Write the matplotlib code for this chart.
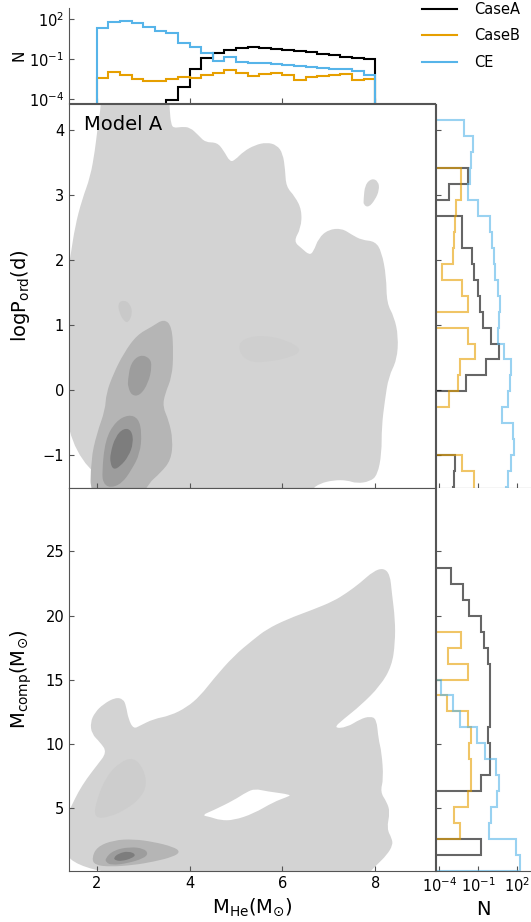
import numpy as np
import matplotlib.pyplot as plt
from matplotlib.path import Path
from matplotlib.patches import PathPatch
from matplotlib.lines import Line2D
from matplotlib.ticker import NullLocator

nan = np.nan

# ---- histograms: log10(N) per bin, nan = empty bin ----
mhe_edges = np.linspace(2.0, 8.0, 25)
mhe_caseA = [nan, nan, nan, nan, nan, nan, -4.05, -3.10, -1.68, -0.88, -0.50, -0.30,
             -0.13, -0.05, -0.12, -0.22, -0.28, -0.38, -0.48, -0.58, -0.68, -0.80, -0.88, -0.98]
mhe_caseB = [-2.38, -1.93, -2.20, -2.43, -2.60, -2.60, -2.43, -2.30, -2.40, -2.20, -2.00, -1.80,
             -2.00, -2.25, -2.10, -2.00, -2.18, -2.55, -2.35, -2.25, -2.15, -2.10, -2.55, -2.50]
mhe_ce = [1.375, 1.78, 1.875, 1.70, 1.45, 1.15, 1.00, 0.20, -0.10, -0.55, -1.10, -0.80,
          -1.18, -1.25, -1.30, -1.35, -1.43, -1.48, -1.55, -1.63, -1.68, -1.75, -1.85, -2.18]

logp_edges = np.linspace(-1.733, 4.154, 25)
logp_caseA = [-2.90, -2.87, -2.79, nan, nan, nan, nan, -1.95, -0.38, 0.56, -0.05, -0.62,
              -0.87, -1.00, -1.31, -1.51, -2.28, -2.23, nan, -3.25, -1.82, nan, nan, nan]
logp_caseB = [-1.30, -1.31, -2.28, nan, nan, nan, -3.25, -2.59, -2.41, -1.25, -1.77, nan,
              -1.77, -2.28, -3.77, -2.92, -2.85, -2.79, -2.74, -2.33, -2.33, nan, nan, nan]
logp_ce = [1.10, 1.26, 1.52, 1.77, 1.64, 0.80, 1.30, 1.45, 1.52, 0.95, 0.54, 0.62,
           0.67, 0.54, 0.28, 0.21, 0.08, -0.10, -1.05, -1.77, -1.64, -1.56, -1.43, -2.08]

mc_edges = np.linspace(0.12, 29.93, 25)
mc_caseA = [nan, -0.82, nan, nan, nan, -0.82, -0.10, -0.10, -0.22, -0.10, -0.12, -0.12,
            -0.12, -0.25, -0.54, -0.77, -1.72, -2.15, -3.10, nan, nan, nan, nan, nan]
mc_caseB = [nan, nan, -2.41, -2.85, -1.77, -1.56, -1.56, -1.69, -1.56, -1.77, -3.43, nan,
            -1.77, -3.31, -2.36, nan, nan, nan, nan, nan, nan, nan, nan, nan]
mc_ce = [2.18, 1.92, -0.15, 0.00, 0.47, 0.63, 0.34, -0.47, -1.13, -2.40, -2.90, -3.82,
         nan, nan, nan, nan, nan, nan, nan, nan, nan, nan, nan, nan]

labels = ['CaseA', 'CaseB', 'CE']
colors = ['black', '#E69F00', '#56B4E9']

# ---- density contour outlines (M_He, logP) ----
logp_outer = [(1.32, -1.70), (1.32, 1.59), (1.43, 2.05), (1.53, 2.52), (1.68, 2.93), (1.86, 3.28),
              (1.96, 3.69), (2.01, 4.00), (2.07, 4.26), (2.12, 4.70), (3.55, 4.70), (3.57, 4.30),
              (3.60, 4.10), (3.65, 4.03), (3.83, 4.05), (4.01, 4.04), (4.19, 3.92), (4.34, 3.81),
              (4.59, 3.81), (4.73, 3.69), (4.87, 3.51), (4.98, 3.54), (5.16, 3.67), (5.41, 3.77),
              (5.66, 3.81), (5.88, 3.77), (6.01, 3.64), (6.06, 3.39), (6.08, 3.13), (6.27, 2.98),
              (6.42, 2.77), (6.40, 2.49), (6.24, 2.29), (6.42, 2.18), (6.58, 2.08), (6.67, 2.13),
              (6.78, 2.34), (6.99, 2.47), (7.28, 2.49), (7.50, 2.39), (7.71, 2.31), (8.00, 2.29),
              (8.14, 2.13), (8.24, 1.75), (8.25, 1.34), (8.41, 1.13), (8.50, 0.83), (8.47, 0.47),
              (8.29, 0.21), (8.21, -0.15), (8.14, -0.56), (8.14, -0.97), (8.05, -1.30), (7.89, -1.40),
              (7.60, -1.43), (7.39, -1.38), (7.10, -1.38), (6.81, -1.43), (6.63, -1.52), (6.60, -1.70)]
logp_blob = [(7.75, 2.93), (7.78, 3.16), (7.93, 3.26), (8.07, 3.21), (8.09, 3.08), (8.00, 2.93),
             (7.86, 2.81), (7.75, 2.85)]
logp_faint = [(2.45, 1.34), (2.58, 1.39), (2.72, 1.33), (2.77, 1.18), (2.68, 1.04), (2.59, 1.06),
              (2.49, 1.18)]
logp_faint2 = [(5.03, 0.65), (5.16, 0.80), (5.59, 0.85), (6.10, 0.77), (6.42, 0.63), (6.24, 0.52),
               (5.66, 0.43), (5.23, 0.44)]
logp_mid = [(1.86, -1.70), (1.87, -1.07), (2.00, -0.66), (2.18, -0.30), (2.20, -0.05), (2.36, 0.26),
            (2.58, 0.57), (2.86, 0.85), (3.19, 0.98), (3.45, 1.10), (3.62, 0.98), (3.65, 0.57),
            (3.62, 0.21), (3.47, -0.05), (3.42, -0.25), (3.55, -0.46), (3.64, -0.76), (3.60, -1.07),
            (3.37, -1.27), (3.11, -1.43), (2.93, -1.70)]
logp_dark_a = [(2.67, 0.16), (2.73, 0.42), (2.93, 0.55), (3.14, 0.50), (3.19, 0.37), (3.11, 0.11),
               (2.93, -0.08), (2.75, -0.08), (2.67, 0.06)]
logp_dark_b = [(2.11, -1.27), (2.18, -0.76), (2.40, -0.48), (2.68, -0.37), (2.90, -0.43), (2.97, -0.66),
               (2.93, -0.97), (2.75, -1.22), (2.54, -1.43), (2.29, -1.50), (2.14, -1.43)]
logp_core = [(2.29, -0.97), (2.40, -0.71), (2.58, -0.58), (2.75, -0.61), (2.79, -0.81), (2.68, -1.02),
             (2.50, -1.17), (2.36, -1.22), (2.29, -1.12)]

# ---- density contour outlines (M_He, M_comp) ----
mc_outer = [(1.32, -0.50), (1.32, 4.20), (1.46, 5.23), (1.60, 6.27), (1.78, 7.30), (2.00, 8.33),
            (2.22, 9.37), (2.07, 10.14), (1.89, 10.79), (1.86, 11.69), (1.96, 12.47), (2.14, 13.11),
            (2.40, 13.63), (2.57, 13.50), (2.63, 12.98), (2.68, 11.95), (2.79, 11.18), (2.93, 11.43),
            (3.22, 11.95), (3.58, 12.21), (3.94, 12.86), (4.23, 13.76), (4.51, 15.05), (4.95, 16.86),
            (5.38, 18.15), (5.66, 18.93), (6.09, 19.70), (6.67, 20.48), (7.10, 21.12), (7.39, 21.77),
            (7.68, 22.55), (7.96, 23.45), (8.18, 23.71), (8.32, 23.19), (8.36, 21.77), (8.43, 19.70),
            (8.43, 17.89), (8.36, 16.09), (8.11, 14.53), (7.68, 12.98), (7.32, 11.95), (7.10, 11.23),
            (7.39, 11.30), (7.68, 11.95), (7.89, 12.16), (8.03, 11.95), (8.07, 10.40), (8.14, 9.37),
            (8.18, 7.30), (8.11, 6.27), (8.25, 5.49), (8.32, 4.72), (8.25, 3.42), (8.36, 2.65),
            (8.38, 2.13), (8.25, 1.36), (8.03, 0.58), (7.89, 0.06), (7.82, -0.50)]
mc_hole = [(4.26, 4.46), (4.51, 4.84), (4.95, 5.62), (5.23, 6.27), (5.41, 6.52), (5.66, 6.32),
           (6.20, 6.06), (6.10, 5.88), (5.81, 5.49), (5.38, 4.59), (4.95, 4.07), (4.66, 4.07),
           (4.44, 4.33)]
mc_faint = [(1.93, 4.20), (2.00, 5.75), (2.22, 7.56), (2.50, 8.59), (2.79, 8.98), (3.01, 8.07),
            (3.08, 6.78), (2.93, 5.75), (2.65, 4.97), (2.29, 4.33)]
mc_mid = [(1.89, 1.10), (2.00, 2.00), (2.36, 2.52), (2.79, 2.60), (3.22, 2.39), (3.65, 2.00),
          (3.80, 1.62), (3.65, 1.23), (3.22, 0.84), (2.79, 0.58), (2.29, 0.45), (1.96, 0.58)]
mc_dark = [(2.18, 1.10), (2.36, 1.74), (2.72, 2.00), (3.01, 1.87), (3.11, 1.49), (3.01, 1.10),
           (2.65, 0.71), (2.32, 0.58), (2.20, 0.79)]
mc_core = [(2.36, 1.15), (2.47, 1.49), (2.68, 1.67), (2.85, 1.41), (2.75, 1.10), (2.54, 0.89),
           (2.40, 0.94)]


def smooth_patch(pts, color):
    # closed outline drawn with quadratic bezier segments through the edge midpoints
    p = np.asarray(pts, float)
    mids = (p + np.roll(p, -1, axis=0)) / 2
    verts = [mids[-1]]
    codes = [Path.MOVETO]
    for i in range(len(p)):
        verts += [p[i], mids[i]]
        codes += [Path.CURVE3, Path.CURVE3]
    verts.append(mids[-1])
    codes.append(Path.CLOSEPOLY)
    return PathPatch(Path(verts, codes), facecolor=color, edgecolor='none', lw=0)


def counts(vals):
    v = np.asarray(vals, float)
    return np.where(np.isnan(v), 0.0, 10 ** np.nan_to_num(v))


W, H = 531, 922
fig = plt.figure(figsize=(W / 100, H / 100), dpi=100)


def box(l, t, r, b):
    return [l / W, 1 - b / H, (r - l) / W, (b - t) / H]


ax_top = fig.add_axes(box(69, 8, 435, 103.5))
ax1 = fig.add_axes(box(69, 104, 435, 488))
ax2 = fig.add_axes(box(69, 488, 435, 871))
axr1 = fig.add_axes(box(435.5, 104, 531, 488))
axr2 = fig.add_axes(box(435.5, 488, 531, 871))

spine_c = '#555555'
for ax in [ax_top, ax1, ax2, axr1, axr2]:
    for s in ax.spines.values():
        s.set_color(spine_c)
        s.set_linewidth(0.8)
    ax.tick_params(direction='in', which='both', color=spine_c, labelcolor='black', labelsize=10.5)

# ---- contour panels ----
light, mid, dark, core = '#d3d3d3', '#b5b5b5', '#9d9d9d', '#7d7d7d'
for pts, c in [(logp_outer, light), (logp_blob, light), (logp_faint, '#c9c9c9'), (logp_faint2, '#cfcfcf'),
               (logp_mid, mid), (logp_dark_a, dark), (logp_dark_b, dark), (logp_core, core)]:
    ax1.add_patch(smooth_patch(pts, c))
for pts, c in [(mc_outer, light), (mc_hole, 'white'), (mc_faint, '#cdcdcd'),
               (mc_mid, mid), (mc_dark, dark), (mc_core, core)]:
    ax2.add_patch(smooth_patch(pts, c))

ax1.set_xlim(1.4, 9.29)
ax2.set_xlim(1.4, 9.29)
ax1.set_ylim(-1.5, 4.4)
ax2.set_ylim(0.12, 29.93)
ax1.set_xticks([2, 4, 6, 8])
ax2.set_xticks([2, 4, 6, 8])
ax1.set_yticks([-1, 0, 1, 2, 3, 4])
ax2.set_yticks([5, 10, 15, 20, 25])
ax1.tick_params(labelbottom=False)
ax1.text(0.04, 0.972, 'Model A', transform=ax1.transAxes, ha='left', va='top', fontsize=14)
ax1.set_ylabel(r'$\mathrm{logP_{ord}(d)}$', fontsize=14, labelpad=8)
ax2.set_ylabel(r'$\mathrm{M_{comp}(M_{\odot})}$', fontsize=14, labelpad=8)
ax2.set_xlabel(r'$\mathrm{M_{He}(M_{\odot})}$', fontsize=14, labelpad=4)

# ---- top histogram ----
mhe_mid = (mhe_edges[:-1] + mhe_edges[1:]) / 2
for vals, c in zip([mhe_caseA, mhe_caseB, mhe_ce], colors):
    ax_top.hist(mhe_mid, bins=mhe_edges, weights=counts(vals), histtype='step',
                color=c, lw=1.5, log=True)
ax_top.set_xlim(1.4, 9.29)
ax_top.set_ylim(10 ** -4.3, 10 ** 2.85)
ax_top.set_xticks([2, 4, 6, 8])
ax_top.set_yticks([1e-4, 1e-1, 1e2])
ax_top.yaxis.set_minor_locator(NullLocator())
ax_top.tick_params(labelbottom=False)
ax_top.spines['top'].set_visible(False)
ax_top.spines['right'].set_visible(False)
ax_top.set_ylabel('N', fontsize=11, labelpad=2)

# ---- right histograms ----
logp_mid_c = (logp_edges[:-1] + logp_edges[1:]) / 2
mc_mid_c = (mc_edges[:-1] + mc_edges[1:]) / 2
for vals, c in zip([logp_caseA, logp_caseB, logp_ce], colors):
    axr1.hist(logp_mid_c, bins=logp_edges, weights=counts(vals), histtype='step',
              orientation='horizontal', color=c, lw=1.5, alpha=0.6, log=True)
for vals, c in zip([mc_caseA, mc_caseB, mc_ce], colors):
    axr2.hist(mc_mid_c, bins=mc_edges, weights=counts(vals), histtype='step',
              orientation='horizontal', color=c, lw=1.5, alpha=0.6, log=True)

for ax, ylim, yt in [(axr1, (-1.5, 4.4), [-1, 0, 1, 2, 3, 4]), (axr2, (0.12, 29.93), [5, 10, 15, 20, 25])]:
    ax.set_ylim(*ylim)
    ax.set_yticks(yt)
    ax.set_xlim(10 ** -4.28, 10 ** 3.05)
    ax.set_xticks([1e-4, 1e-1, 1e2])
    ax.xaxis.set_minor_locator(NullLocator())
    ax.tick_params(labelleft=False)
    ax.spines['top'].set_visible(False)
    ax.spines['right'].set_visible(False)
axr1.tick_params(labelbottom=False)
axr2.set_xlabel('N', fontsize=14, labelpad=4)

# ---- legend ----
handles = [Line2D([], [], color=c, lw=1.5) for c in colors]
fig.legend(handles, labels, loc='upper left', bbox_to_anchor=(422 / W, 1 - 2 / H),
           frameon=False, fontsize=10.5, handlelength=2.4, handletextpad=1.2,
           labelspacing=0.78, borderpad=0, borderaxespad=0)

fig.savefig('out.png', dpi=100)
